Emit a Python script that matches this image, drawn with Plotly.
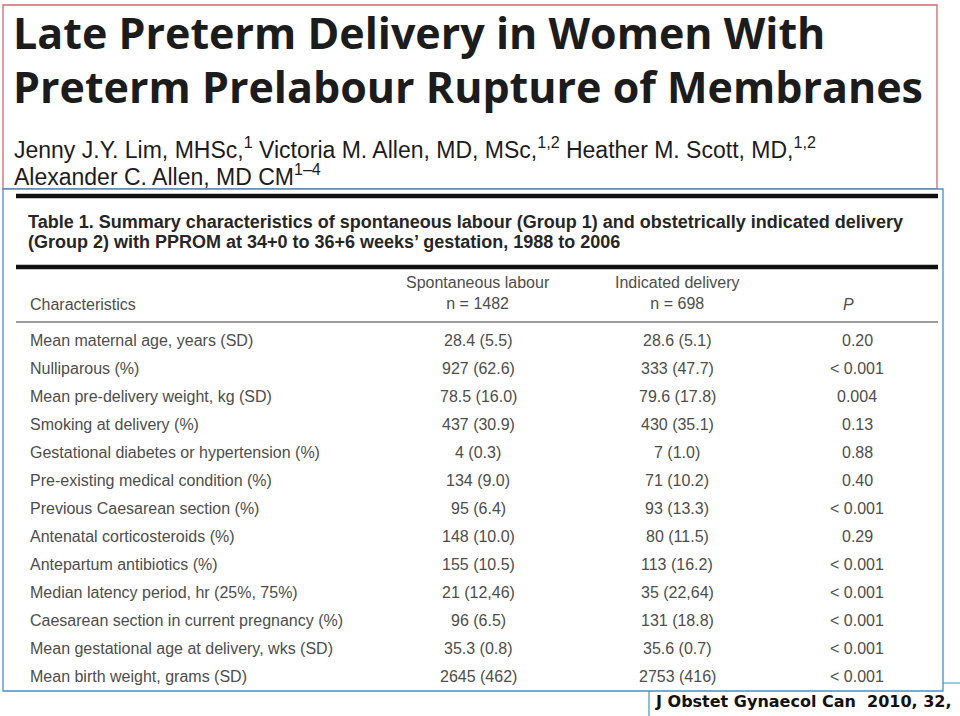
import plotly.graph_objects as go

# ---------------- data ----------------
title_lines = ["Late Preterm Delivery in Women With",
               "Preterm Prelabour Rupture of Membranes"]
author_lines = ["Jenny J.Y. Lim, MHSc,<sup>1</sup> Victoria M. Allen, MD, MSc,<sup>1,2</sup> Heather M. Scott, MD,<sup>1,2</sup>",
                "Alexander C. Allen, MD CM<sup>1\u20134</sup>"]
table_title = ["Table 1. Summary characteristics of spontaneous labour (Group 1) and obstetrically indicated delivery",
               "(Group 2) with PPROM at 34+0 to 36+6 weeks\u2019 gestation, 1988 to 2006"]
col_headers = ["Characteristics", "Spontaneous labour<br>n = 1482", "Indicated delivery<br>n = 698", "P"]
characteristics = [
    "Mean maternal age, years (SD)",
    "Nulliparous (%)",
    "Mean pre-delivery weight, kg (SD)",
    "Smoking at delivery (%)",
    "Gestational diabetes or hypertension (%)",
    "Pre-existing medical condition (%)",
    "Previous Caesarean section (%)",
    "Antenatal corticosteroids (%)",
    "Antepartum antibiotics (%)",
    "Median latency period, hr (25%, 75%)",
    "Caesarean section in current pregnancy (%)",
    "Mean gestational age at delivery, wks (SD)",
    "Mean birth weight, grams (SD)",
]
spontaneous = ["28.4 (5.5)", "927 (62.6)", "78.5 (16.0)", "437 (30.9)", "4 (0.3)", "134 (9.0)",
               "95 (6.4)", "148 (10.0)", "155 (10.5)", "21 (12,46)", "96 (6.5)", "35.3 (0.8)", "2645 (462)"]
indicated = ["28.6 (5.1)", "333 (47.7)", "79.6 (17.8)", "430 (35.1)", "7 (1.0)", "71 (10.2)",
             "93 (13.3)", "80 (11.5)", "113 (16.2)", "35 (22,64)", "131 (18.8)", "35.6 (0.7)", "2753 (416)"]
p_values = ["0.20", "< 0.001", "0.004", "0.13", "0.88", "0.40",
            "< 0.001", "0.29", "< 0.001", "< 0.001", "< 0.001", "< 0.001", "< 0.001"]
citation = ["J Obstet Gynaecol Can  2010, 32,", "555"]

# ---------------- layout constants ----------------
W, H = 960, 716
ARIAL = "Liberation Sans, Arial, sans-serif"
BODY = "#4d4d4d"
BLUE = "#4a8fc0"
RED = "#d4646e"

fig = go.Figure()
fig.add_trace(go.Scatter(x=[0, W], y=[0, H], mode="markers",
                         marker=dict(opacity=0), hoverinfo="skip", showlegend=False))

ann = []
def txt(x, y, s, size, color, family=ARIAL, anchor="left", bold=False):
    ann.append(dict(x=x, y=y, xref="x", yref="y", text=("<b>%s</b>" % s) if bold else s,
                    showarrow=False, xanchor=anchor, yanchor="middle",
                    font=dict(size=size, color=color, family=family)))

# title
for i, line in enumerate(title_lines):
    txt(11, 32 + i * 54, line, 43, "#1c1c1c", family="Open Sans, sans-serif", bold=True)
# authors
for i, line in enumerate(author_lines):
    txt(12, 148 + i * 27, line, 23, "#1c1c1c")
# table title
for i, line in enumerate(table_title):
    txt(26, 222 + i * 20, line, 18, "#262626", bold=True)

# column header
col_x = [28, 478, 677, 857]
txt(col_x[0], 304, col_headers[0], 16, BODY)
txt(col_x[1], 293, col_headers[1], 16, BODY, anchor="center")
txt(col_x[2], 293, col_headers[2], 16, BODY, anchor="center")
txt(848, 304, "<i>%s</i>" % col_headers[3], 16, BODY, anchor="center")

# body rows
row0, dy = 340, 28
for i in range(len(characteristics)):
    y = row0 + i * dy
    txt(col_x[0], y, characteristics[i], 16, BODY)
    txt(col_x[1], y, spontaneous[i], 16, BODY, anchor="center")
    txt(col_x[2], y, indicated[i], 16, BODY, anchor="center")
    txt(col_x[3], y, p_values[i], 16, BODY, anchor="center")

# citation
txt(653, 701, citation[0], 16, "#111111", family="DejaVu Sans, sans-serif", bold=True)
txt(653, 722, citation[1], 16, "#111111", family="DejaVu Sans, sans-serif", bold=True)

shapes = [
    dict(type="rect", x0=649, y0=683, x1=990, y1=760, line=dict(color=BLUE, width=1.2), fillcolor="white"),
    dict(type="rect", x0=3, y0=5, x1=937, y1=189, line=dict(color=RED, width=1.3), fillcolor="white"),
    dict(type="rect", x0=3, y0=189, x1=943, y1=691, line=dict(color=BLUE, width=1.3), fillcolor="white"),
    dict(type="line", x0=16, y0=196, x1=938, y1=196, line=dict(color="#111111", width=4.5)),
    dict(type="line", x0=16, y0=267, x1=938, y1=267, line=dict(color="#111111", width=4.5)),
    dict(type="line", x0=16, y0=322, x1=938, y1=322, line=dict(color="#9c9c9c", width=2)),
]
for s in shapes:
    s.update(xref="x", yref="y", layer="below")

fig.update_layout(
    width=W, height=H, margin=dict(l=0, r=0, t=0, b=0),
    paper_bgcolor="white", plot_bgcolor="white",
    xaxis=dict(range=[0, W], visible=False, fixedrange=True),
    yaxis=dict(range=[H, 0], visible=False, fixedrange=True),
    annotations=ann, shapes=shapes, showlegend=False,
)
fig.write_html("out.html", config={"displayModeBar": False},
               post_script="document.body.style.margin='0px';document.body.style.overflow='hidden';")
